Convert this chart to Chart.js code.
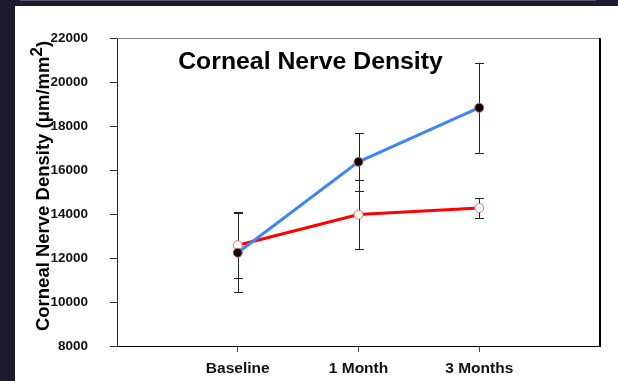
<!DOCTYPE html>
<html>
<head>
<meta charset="utf-8">
<script src="https://cdn.jsdelivr.net/npm/chart.js@4.4.1/dist/chart.umd.min.js"></script>
<style>
html,body{margin:0;padding:0;background:#1c1b30;}
canvas{display:block;}
</style>
</head>
<body>
<canvas id="c" width="618" height="381"></canvas>
<script>
const categories = ['Baseline', '1 Month', '3 Months'];
const blueMean = [12240, 16370, 18830];
const blueErr = [1800, 1305, 2045];
const redMean = [12580, 13975, 14270];
const redErr = [1500, 1575, 460];
const yMin = 8000, yMax = 22000, yStep = 2000;
const chartTitle = 'Corneal Nerve Density';
const yLabelMain = 'Corneal Nerve Density (\u03bcm/mm';
const yLabelSup = '2';
const yLabelEnd = ')';

const FONT = '"Liberation Sans", Arial, sans-serif';

const toPts = arr => arr.map((v, i) => ({x: i + 1, y: v}));

const decor = {
  id: 'decor',
  beforeDraw(chart) {
    const ctx = chart.ctx;
    ctx.save();
    ctx.fillStyle = '#1c1b30';
    ctx.fillRect(0, 0, chart.width, chart.height);
    ctx.fillStyle = '#5a5a66';
    ctx.fillRect(20, 0, 576, 1);
    ctx.fillStyle = '#ffffff';
    ctx.fillRect(15, 6, chart.width - 15, chart.height - 6);
    ctx.restore();
  },
  beforeDatasetsDraw(chart) {
    const ctx = chart.ctx;
    const xs = chart.scales.x, ys = chart.scales.y;
    ctx.save();
    ctx.strokeStyle = '#222';
    ctx.lineWidth = 1;
    const drawBars = (means, errs) => {
      means.forEach((m, i) => {
        const px = Math.round(xs.getPixelForValue(i + 1)) + 0.5;
        const top = ys.getPixelForValue(m + errs[i]);
        const bot = ys.getPixelForValue(m - errs[i]);
        ctx.beginPath();
        ctx.moveTo(px, top); ctx.lineTo(px, bot);
        ctx.moveTo(px - 4.5, Math.round(top) + 0.5); ctx.lineTo(px + 4.5, Math.round(top) + 0.5);
        ctx.moveTo(px - 4.5, Math.round(bot) + 0.5); ctx.lineTo(px + 4.5, Math.round(bot) + 0.5);
        ctx.stroke();
      });
    };
    drawBars(blueMean, blueErr);
    drawBars(redMean, redErr);
    ctx.restore();
  },
  afterDraw(chart) {
    const ctx = chart.ctx;
    const a = chart.chartArea;
    ctx.save();
    ctx.strokeStyle = '#8a8a8a';
    ctx.lineWidth = 1;
    ctx.beginPath();
    ctx.moveTo(a.left, Math.round(a.top) + 0.5);
    ctx.lineTo(a.right, Math.round(a.top) + 0.5);
    ctx.stroke();
    ctx.strokeStyle = '#000';
    ctx.lineWidth = 2;
    ctx.beginPath();
    ctx.moveTo(Math.round(a.right), a.top);
    ctx.lineTo(Math.round(a.right), a.bottom + 1);
    ctx.stroke();
    ctx.fillStyle = '#000';
    ctx.font = 'bold 24.8px ' + FONT;
    ctx.textAlign = 'center';
    ctx.textBaseline = 'alphabetic';
    ctx.fillText(chartTitle, 310.5, 69);
    ctx.translate(49, 186);
    ctx.rotate(-Math.PI / 2);
    ctx.textAlign = 'left';
    ctx.font = 'bold 18.5px ' + FONT;
    const w1 = ctx.measureText(yLabelMain).width;
    const w3 = ctx.measureText(yLabelEnd).width;
    ctx.font = 'bold 17px ' + FONT;
    const w2 = ctx.measureText(yLabelSup).width;
    const start = -(w1 + w2 + w3) / 2;
    ctx.font = 'bold 18.5px ' + FONT;
    ctx.fillText(yLabelMain, start, 0);
    ctx.fillText(yLabelEnd, start + w1 + w2, 0);
    ctx.font = 'bold 17px ' + FONT;
    ctx.fillText(yLabelSup, start + w1, -7);
    ctx.restore();
  }
};

new Chart(document.getElementById('c'), {
  type: 'line',
  data: {
    datasets: [
      {
        data: toPts(redMean),
        borderColor: '#ff0000',
        borderWidth: 3,
        pointBackgroundColor: '#ffffff',
        pointBorderColor: '#ff6a6a',
        pointBorderWidth: 1,
        pointRadius: 4.5,
        tension: 0,
        order: 2
      },
      {
        data: toPts(blueMean),
        borderColor: '#3f86f4',
        borderWidth: 3,
        pointBackgroundColor: '#000000',
        pointBorderColor: '#e06060',
        pointBorderWidth: 1,
        pointRadius: 4.5,
        tension: 0,
        order: 1
      }
    ]
  },
  options: {
    responsive: false,
    animation: false,
    devicePixelRatio: 1,
    layout: {padding: {top: 38, right: 18, left: 0, bottom: 0}},
    plugins: {legend: {display: false}, tooltip: {enabled: false}, title: {display: false}},
    scales: {
      x: {
        type: 'linear',
        min: 0, max: categories.length + 1,
        afterBuildTicks(scale) { scale.ticks = categories.map((c, i) => ({value: i + 1})); },
        afterFit(scale) { scale.height = 35; },
        grid: {drawOnChartArea: false, drawTicks: true, tickLength: 6, color: '#444'},
        border: {display: true, color: '#000', width: 1},
        ticks: {
          callback: v => categories[v - 1] || '',
          font: {family: FONT, size: 15.5, weight: 'bold'},
          color: '#111',
          padding: 7,
          maxRotation: 0
        }
      },
      y: {
        min: yMin, max: yMax,
        afterFit(scale) { scale.width = 117; },
        grid: {drawOnChartArea: false, drawTicks: true, tickLength: 7, color: '#333'},
        border: {display: true, color: '#222', width: 1},
        ticks: {
          stepSize: yStep,
          callback: v => String(v),
          font: {family: FONT, size: 13.5, weight: 'bold'},
          color: '#111',
          padding: 22
        }
      }
    }
  },
  plugins: [decor]
});
</script>
</body>
</html>
